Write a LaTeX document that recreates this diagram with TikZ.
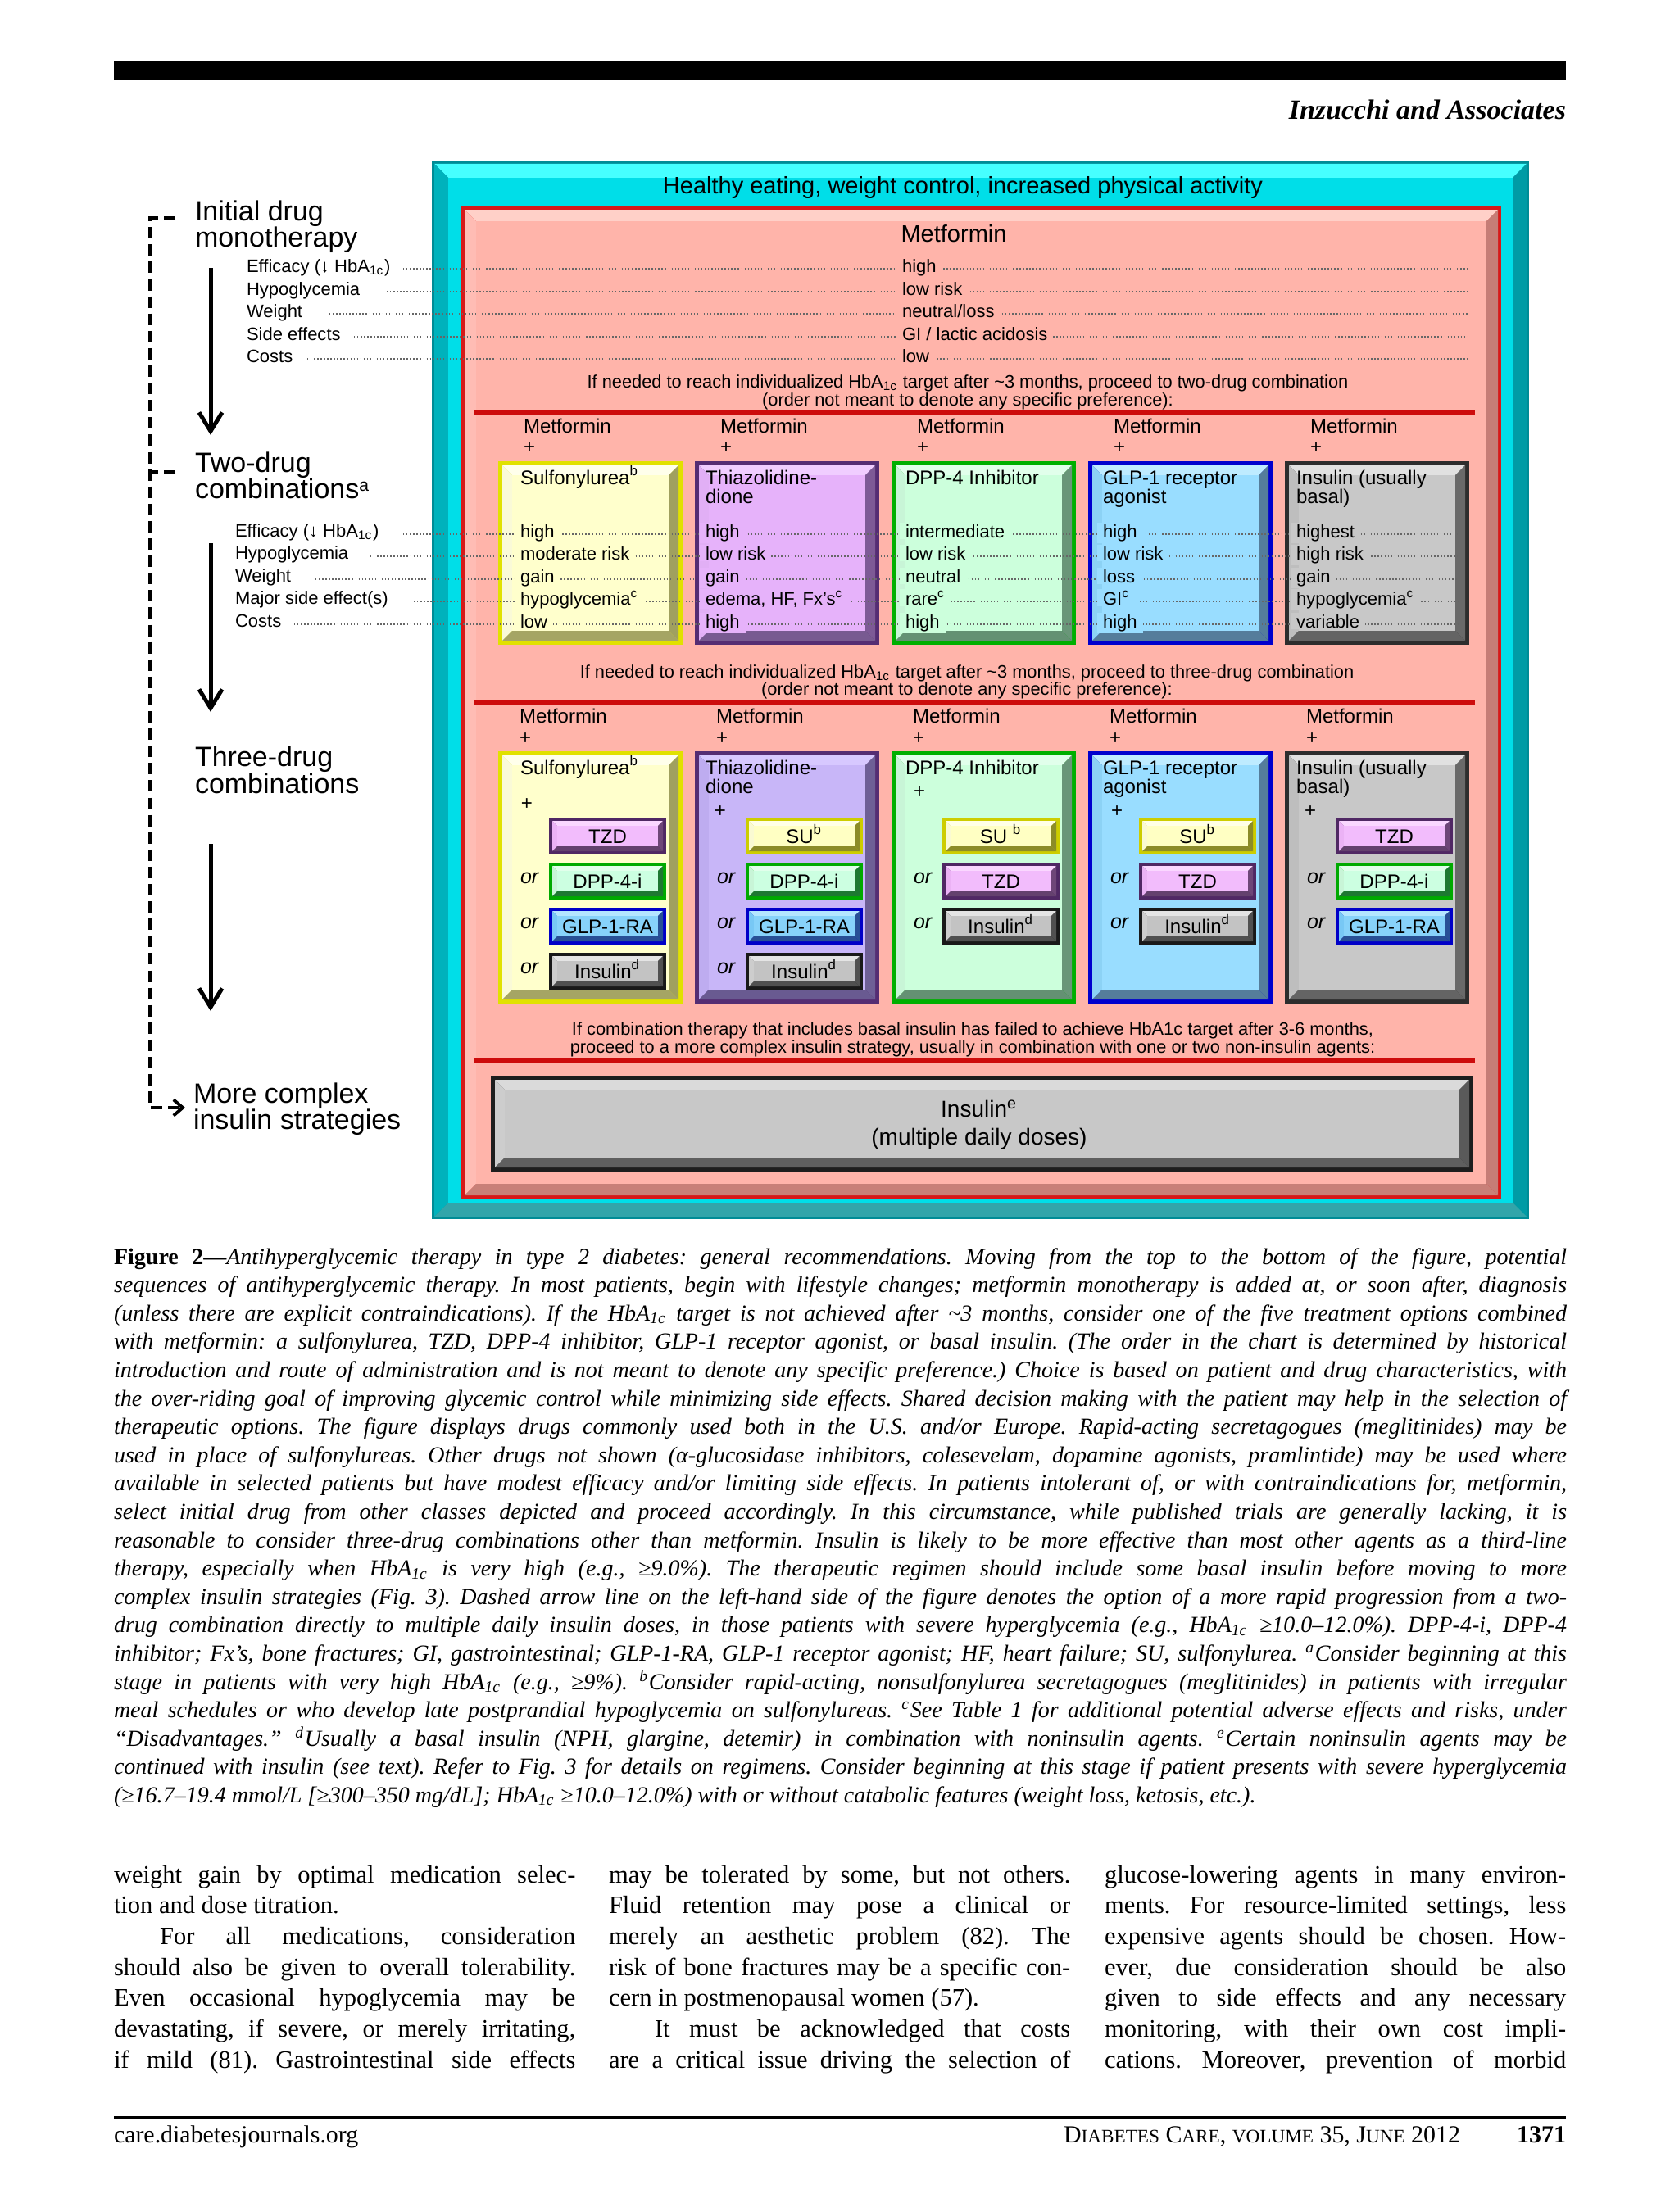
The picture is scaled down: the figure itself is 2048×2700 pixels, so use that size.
\documentclass[tikz,border=0pt]{standalone}
\usepackage{fontspec}
\setmainfont{Liberation Serif}
\newfontfamily\arial{Liberation Sans}
\usetikzlibrary{arrows.meta,calc}
% colours
\definecolor{cyB}{RGB}{0,140,150}\definecolor{cyT}{RGB}{70,255,255}\definecolor{cyL}{RGB}{0,178,188}
\definecolor{cyR}{RGB}{0,155,165}\definecolor{cyD}{RGB}{50,165,170}\definecolor{cyF}{RGB}{0,222,232}
\definecolor{rdB}{RGB}{215,25,25}\definecolor{rdT}{RGB}{255,208,200}\definecolor{rdL}{RGB}{255,188,180}
\definecolor{rdR}{RGB}{198,125,118}\definecolor{rdD}{RGB}{200,128,120}\definecolor{rdF}{RGB}{255,180,170}
\definecolor{yelB}{RGB}{225,225,0}\definecolor{yelT}{RGB}{255,255,235}\definecolor{yelL}{RGB}{250,250,215}
\definecolor{yelR}{RGB}{160,160,95}\definecolor{yelD}{RGB}{165,165,100}\definecolor{yelF}{RGB}{255,255,204}
\definecolor{purB}{RGB}{85,45,115}\definecolor{purT}{RGB}{240,205,255}\definecolor{purL}{RGB}{225,175,245}
\definecolor{purR}{RGB}{125,90,150}\definecolor{purD}{RGB}{120,90,145}\definecolor{purF}{RGB}{230,178,250}
\definecolor{lavB}{RGB}{85,45,115}\definecolor{lavT}{RGB}{215,200,255}\definecolor{lavL}{RGB}{190,172,240}
\definecolor{lavR}{RGB}{110,95,150}\definecolor{lavD}{RGB}{105,90,145}\definecolor{lavF}{RGB}{200,182,248}
\definecolor{grnB}{RGB}{0,175,0}\definecolor{grnT}{RGB}{225,255,235}\definecolor{grnL}{RGB}{200,245,215}
\definecolor{grnR}{RGB}{105,150,120}\definecolor{grnD}{RGB}{100,145,115}\definecolor{grnF}{RGB}{204,255,220}
\definecolor{bluB}{RGB}{0,0,205}\definecolor{bluT}{RGB}{190,235,255}\definecolor{bluL}{RGB}{140,210,245}
\definecolor{bluR}{RGB}{85,125,155}\definecolor{bluD}{RGB}{85,125,155}\definecolor{bluF}{RGB}{153,221,255}
\definecolor{gryB}{RGB}{45,45,45}\definecolor{gryT}{RGB}{225,225,225}\definecolor{gryL}{RGB}{190,190,190}
\definecolor{gryR}{RGB}{105,105,105}\definecolor{gryD}{RGB}{100,100,100}\definecolor{gryF}{RGB}{200,200,200}
\definecolor{stzB}{RGB}{80,40,100}\definecolor{stzT}{RGB}{250,215,255}\definecolor{stzL}{RGB}{235,178,245}
\definecolor{stzR}{RGB}{110,70,120}\definecolor{stzD}{RGB}{100,65,110}\definecolor{stzF}{RGB}{242,188,252}
\definecolor{sdpB}{RGB}{0,170,0}\definecolor{sdpT}{RGB}{225,255,235}\definecolor{sdpL}{RGB}{200,245,215}
\definecolor{sdpR}{RGB}{30,120,50}\definecolor{sdpD}{RGB}{30,120,50}\definecolor{sdpF}{RGB}{204,255,225}
\definecolor{sglB}{RGB}{0,0,200}\definecolor{sglT}{RGB}{180,230,255}\definecolor{sglL}{RGB}{120,200,245}
\definecolor{sglR}{RGB}{40,80,150}\definecolor{sglD}{RGB}{40,80,150}\definecolor{sglF}{RGB}{135,210,250}
\definecolor{sinB}{RGB}{25,25,25}\definecolor{sinT}{RGB}{228,228,228}\definecolor{sinL}{RGB}{205,205,205}
\definecolor{sinR}{RGB}{80,80,80}\definecolor{sinD}{RGB}{80,80,80}\definecolor{sinF}{RGB}{195,195,195}
\definecolor{ssuB}{RGB}{205,205,0}\definecolor{ssuT}{RGB}{255,255,230}\definecolor{ssuL}{RGB}{250,250,210}
\definecolor{ssuR}{RGB}{140,140,40}\definecolor{ssuD}{RGB}{140,140,40}\definecolor{ssuF}{RGB}{255,255,195}
\definecolor{biB}{RGB}{30,30,30}\definecolor{biT}{RGB}{218,218,218}\definecolor{biL}{RGB}{205,205,205}
\definecolor{biR}{RGB}{90,90,90}\definecolor{biD}{RGB}{95,95,95}\definecolor{biF}{RGB}{200,200,200}
\definecolor{sepR}{RGB}{205,12,12}
% font sizes (1px = 0.2845pt)
\newcommand\szA{\fontsize{9.67pt}{8.6pt}\selectfont}
\newcommand\szB{\fontsize{8.25pt}{9pt}\selectfont}
\newcommand\szC{\fontsize{7.97pt}{9.67pt}\selectfont}
\newcommand\szD{\fontsize{7.1pt}{8pt}\selectfont}
\newcommand\szE{\fontsize{6.83pt}{6.54pt}\selectfont}
\newcommand\szF{\fontsize{6.26pt}{7pt}\selectfont}
\newcommand\szG{\fontsize{6.2pt}{6.26pt}\selectfont}
\newcommand\szCap{\fontsize{7.97pt}{9.84pt}\selectfont}
\newcommand\szBody{\fontsize{8.68pt}{10.73pt}\selectfont}
\newcommand\szFoot{\fontsize{8.5pt}{10pt}\selectfont}
\newcommand\szSc{\fontsize{6.6pt}{8pt}\selectfont}
\newcommand\szHdr{\fontsize{9.67pt}{11pt}\selectfont}
\newcommand\lowsup[1]{\raisebox{0.26em}{\fontsize{6pt}{6pt}\selectfont #1}}
% bevelled box: x1 y1 x2 y2 border bevel prefix
\newcommand\bevbox[7]{%
 \pgfmathsetmacro\bvAx{#1+#5}\pgfmathsetmacro\bvAy{#2+#5}%
 \pgfmathsetmacro\bvBx{#3-#5}\pgfmathsetmacro\bvBy{#4-#5}%
 \pgfmathsetmacro\bvCx{\bvAx+#6}\pgfmathsetmacro\bvCy{\bvAy+#6}%
 \pgfmathsetmacro\bvDx{\bvBx-#6}\pgfmathsetmacro\bvDy{\bvBy-#6}%
 \fill[#7B] (#1,#2) rectangle (#3,#4);
 \fill[#7T] (\bvAx,\bvAy) -- (\bvBx,\bvAy) -- (\bvDx,\bvCy) -- (\bvCx,\bvCy) -- cycle;
 \fill[#7L] (\bvAx,\bvAy) -- (\bvCx,\bvCy) -- (\bvCx,\bvDy) -- (\bvAx,\bvBy) -- cycle;
 \fill[#7R] (\bvBx,\bvAy) -- (\bvDx,\bvCy) -- (\bvDx,\bvDy) -- (\bvBx,\bvBy) -- cycle;
 \fill[#7D] (\bvAx,\bvBy) -- (\bvCx,\bvDy) -- (\bvDx,\bvDy) -- (\bvBx,\bvBy) -- cycle;
 \fill[#7F] (\bvCx,\bvCy) rectangle (\bvDx,\bvDy);}
% sub box: name, box left, slot, prefix, text
\newcommand\subb[5]{%
 \pgfmathsetmacro\sbx{#2+62}\pgfmathsetmacro\sby{998+55*#3}%
 \bevbox{\sbx}{\sby}{\sbx+143}{\sby+45}{4}{6}{#4}%
 \node[subt] (#1) at (\sbx+71.5,\sby+31) {#5};}
\newcommand\ornode[3]{\pgfmathsetmacro\ory{998+55*#3+25.5}\node[ort] (#1) at (#2+27,\ory) {or};}
\newcommand\capl[3]{\node[capt] (#1) at (139,#2) {\hbox to 17.72cm{#3}};}
\newcommand\bodl[4]{\node[bodyt] (#1) at (#2,#3) {\hbox to 5.63cm{#4}};}
\begin{document}
\frenchspacing
\begin{tikzpicture}[x=0.01cm,y=-0.01cm,
 every node/.style={inner sep=0pt,outer sep=0pt},
 lab/.style={font=\arial\szA,anchor=base west},
 sml/.style={font=\arial\szF,anchor=base west},
 rowt/.style={font=\arial\szF,anchor=base west,inner xsep=2pt,inner ysep=0.6pt},
 ttl/.style={font=\arial\szE,anchor=base west},
 mfl/.style={font=\arial\szE,anchor=base west},
 subt/.style={font=\arial\szE,anchor=base},
 ort/.style={font=\arial\itshape\szD,anchor=base west},
 note/.style={font=\arial\szG,anchor=base},
 capt/.style={font=\szCap\itshape,anchor=base west},
 bodyt/.style={font=\szBody,anchor=base west},
 foot/.style={font=\szFoot},
 leader/.style={line width=0.35pt,dash pattern=on 0.4pt off 0.75pt,black!60},
 sepline/.style={line width=1.45pt,sepR},
 bigarrow/.style={line width=1.42pt,-{Straight Barb[length=6.5pt,width=8pt]}},
 dashline/.style={line width=1.1pt,dash pattern=on 4pt off 2pt}]
\useasboundingbox (0,0) rectangle (2048,2700);
\fill[white] (0,0) rectangle (2048,2700);
% header
\fill[black] (139,74) rectangle (1911,98);
\node[font=\szHdr\itshape\bfseries,anchor=base east] (hdr) at (1911,146) {Inzucchi and Associates};
% frames
\bevbox{527}{197}{1866}{1488}{3}{17}{cy}
\bevbox{563}{252}{1832}{1463}{4}{14}{rd}
\node[font=\arial\szB,anchor=base] (healthy) at (1175,237) {Healthy eating, weight control, increased physical activity};
\node[font=\arial\szB,anchor=base] (metf) at (1164,295) {Metformin};
% two-drug boxes
\foreach \k/\p in {0/yel,1/pur,2/grn,3/blu,4/gry}{\pgfmathsetmacro\bxL{608+240*\k}\bevbox{\bxL}{563}{\bxL+225}{787}{5}{12}{\p}}
% three-drug boxes
\foreach \k/\p in {0/yel,1/lav,2/grn,3/blu,4/gry}{\pgfmathsetmacro\bxL{608+240*\k}\bevbox{\bxL}{917}{\bxL+225}{1225}{5}{12}{\p}}
% bottom insulin box
\bevbox{599}{1313}{1798}{1430}{5}{12}{bi}
\node[font=\arial\szC,anchor=base] (ins1) at (1195,1363) {Insulin\textsuperscript{e}};
\node[font=\arial\szC,anchor=base] (ins2) at (1195,1397) {(multiple daily doses)};
% separator lines
\coordinate (s1a) at (579,503);\coordinate (s1b) at (1800,503);
\coordinate (s2a) at (579,857);\coordinate (s2b) at (1800,857);
\coordinate (s3a) at (579,1294);\coordinate (s3b) at (1800,1294);
\draw[sepline] (s1a) -- (s1b);\draw[sepline] (s2a) -- (s2b);\draw[sepline] (s3a) -- (s3b);
% transition notes
\node[note] (t1a) at (1181,473) {If needed to reach individualized HbA\textsubscript{1c} target after \textasciitilde3 months, proceed to two-drug combination};
\node[note] (t1b) at (1181,495) {(order not meant to denote any specific preference):};
\node[note] (t2a) at (1180,827) {If needed to reach individualized HbA\textsubscript{1c} target after \textasciitilde3 months, proceed to three-drug combination};
\node[note] (t2b) at (1180,848) {(order not meant to denote any specific preference):};
\node[note] (t3a) at (1187,1263) {If combination therapy that includes basal insulin has failed to achieve HbA1c target after 3-6 months,};
\node[note] (t3b) at (1187,1285) {proceed to a more complex insulin strategy, usually in combination with one or two non-insulin agents:};
% Metformin + labels
\foreach \k in {0,...,4}{\pgfmathsetmacro\mx{639+240*\k}\pgfmathsetmacro\my{634+240*\k}
 \node[mfl] (mA\k) at (\mx,528) {Metformin};\node[mfl] (pA\k) at (\mx,553) {+};
 \node[mfl] (mB\k) at (\my,882) {Metformin};\node[mfl] (pB\k) at (\my,908) {+};}
% left side labels
\node[lab] (lb1) at (238,269) {Initial drug};
\node[lab] (lb2) at (238,301) {monotherapy};
\node[lab] (lb3) at (238,576) {Two-drug};
\node[lab] (lb4) at (238,608) {combinations\lowsup{a}};
\node[lab] (lb5) at (238,935) {Three-drug};
\node[lab] (lb6) at (238,968) {combinations};
\node[lab] (lb7) at (236,1346) {More complex};
\node[lab] (lb8) at (236,1378) {insulin strategies};
\node[sml] (ma1) at (301,332) {Efficacy (↓ HbA\textsubscript{1c})};
\node[sml] (ma2) at (301,360) {Hypoglycemia};
\node[sml] (ma3) at (301,387) {Weight};
\node[sml] (ma4) at (301,415) {Side effects};
\node[sml] (ma5) at (301,442) {Costs};
\node[sml] (mb1) at (287,655) {Efficacy (↓ HbA\textsubscript{1c})};
\node[sml] (mb2) at (287,682) {Hypoglycemia};
\node[sml] (mb3) at (287,710) {Weight};
\node[sml] (mb4) at (287,737) {Major side effect(s)};
\node[sml] (mb5) at (287,765) {Costs};
% arrows
\coordinate (a1s) at (257,327);\coordinate (a1e) at (257,531);
\coordinate (a2s) at (257,663);\coordinate (a2e) at (257,869);
\coordinate (a3s) at (257,1030);\coordinate (a3e) at (257,1234);
\draw[bigarrow] (a1s) -- (a1e);\draw[bigarrow] (a2s) -- (a2e);\draw[bigarrow] (a3s) -- (a3e);
\coordinate (d1) at (214,266);\coordinate (dk1) at (183,266);\coordinate (dk2) at (183,1352);\coordinate (d2) at (226,1352);
\coordinate (d3) at (214,576);\coordinate (dk3) at (183,576);
\draw[dashline,-{Straight Barb[length=3.2pt,width=5.5pt]}] (d1) -- (dk1) -- (dk2) -- (d2);
\draw[dashline] (d3) -- (dk3);
% dotted leaders
\foreach \i/\sx/\yy in {1/492/328,2/472/356,3/402/383,4/432/411,5/375/438}{%
 \coordinate (ts\i) at (\sx,\yy);\coordinate (te\i) at (1793,\yy);\draw[leader] (ts\i) -- (te\i);}
\foreach \i/\sx/\yy in {1/492/652,2/452/679,3/385/707,4/505/734,5/359/762}{%
 \coordinate (us\i) at (\sx,\yy);\coordinate (ue\i) at (1779,\yy);\draw[leader] (us\i) -- (ue\i);}
% metformin values
\node[rowt,fill=rdF] (v1) at (1094,332) {high};
\node[rowt,fill=rdF] (v2) at (1094,360) {low risk};
\node[rowt,fill=rdF] (v3) at (1094,387) {neutral/loss};
\node[rowt,fill=rdF] (v4) at (1094,415) {GI / lactic acidosis};
\node[rowt,fill=rdF] (v5) at (1094,442) {low};
% two-drug box titles
\node[ttl] (ta0) at (635,591) {Sulfonylurea\textsuperscript{b}};
\node[ttl] (ta1) at (861,591) {Thiazolidine-};\node[ttl] (ta1b) at (861,614) {dione};
\node[ttl] (ta2) at (1105,591) {DPP-4 Inhibitor};
\node[ttl] (ta3) at (1346,591) {GLP-1 receptor};\node[ttl] (ta3b) at (1346,614) {agonist};
\node[ttl] (ta4) at (1582,591) {Insulin (usually};\node[ttl] (ta4b) at (1582,614) {basal)};
% two-drug rows
\node[rowt,fill=yelF] (r01) at (628,656) {high};
\node[rowt,fill=yelF] (r02) at (628,683) {moderate risk};
\node[rowt,fill=yelF] (r03) at (628,711) {gain};
\node[rowt,fill=yelF] (r04) at (628,738) {hypoglycemia\textsuperscript{c}};
\node[rowt,fill=yelF] (r05) at (628,766) {low};
\node[rowt,fill=purF] (r11) at (854,656) {high};
\node[rowt,fill=purF] (r12) at (854,683) {low risk};
\node[rowt,fill=purF] (r13) at (854,711) {gain};
\node[rowt,fill=purF] (r14) at (854,738) {edema, HF, Fx’s\textsuperscript{c}};
\node[rowt,fill=purF] (r15) at (854,766) {high};
\node[rowt,fill=grnF] (r21) at (1098,656) {intermediate};
\node[rowt,fill=grnF] (r22) at (1098,683) {low risk};
\node[rowt,fill=grnF] (r23) at (1098,711) {neutral};
\node[rowt,fill=grnF] (r24) at (1098,738) {rare\textsuperscript{c}};
\node[rowt,fill=grnF] (r25) at (1098,766) {high};
\node[rowt,fill=bluF] (r31) at (1339,656) {high};
\node[rowt,fill=bluF] (r32) at (1339,683) {low risk};
\node[rowt,fill=bluF] (r33) at (1339,711) {loss};
\node[rowt,fill=bluF] (r34) at (1339,738) {GI\textsuperscript{c}};
\node[rowt,fill=bluF] (r35) at (1339,766) {high};
\node[rowt,fill=gryF] (r41) at (1575,656) {highest};
\node[rowt,fill=gryF] (r42) at (1575,683) {high risk};
\node[rowt,fill=gryF] (r43) at (1575,711) {gain};
\node[rowt,fill=gryF] (r44) at (1575,738) {hypoglycemia\textsuperscript{c}};
\node[rowt,fill=gryF] (r45) at (1575,766) {variable};
% three-drug titles and plus
\node[ttl] (tb0) at (635,945) {Sulfonylurea\textsuperscript{b}};
\node[ttl] (tb1) at (861,945) {Thiazolidine-};\node[ttl] (tb1b) at (861,968) {dione};
\node[ttl] (tb2) at (1105,945) {DPP-4 Inhibitor};
\node[ttl] (tb3) at (1346,945) {GLP-1 receptor};\node[ttl] (tb3b) at (1346,968) {agonist};
\node[ttl] (tb4) at (1582,945) {Insulin (usually};\node[ttl] (tb4b) at (1582,968) {basal)};
\node[subt] (q0) at (643,988) {+};
\node[subt] (q1) at (879,997) {+};
\node[subt] (q2) at (1122,973) {+};
\node[subt] (q3) at (1363,997) {+};
\node[subt] (q4) at (1599,997) {+};
% three-drug sub boxes
\subb{x00}{608}{0}{stz}{TZD}
\subb{x01}{608}{1}{sdp}{DPP-4-i}
\subb{x02}{608}{2}{sgl}{GLP-1-RA}
\subb{x03}{608}{3}{sin}{Insulin\textsuperscript{d}}
\ornode{o01}{608}{1}\ornode{o02}{608}{2}\ornode{o03}{608}{3}
\subb{x10}{848}{0}{ssu}{SU\textsuperscript{b}}
\subb{x11}{848}{1}{sdp}{DPP-4-i}
\subb{x12}{848}{2}{sgl}{GLP-1-RA}
\subb{x13}{848}{3}{sin}{Insulin\textsuperscript{d}}
\ornode{o11}{848}{1}\ornode{o12}{848}{2}\ornode{o13}{848}{3}
\subb{x20}{1088}{0}{ssu}{SU \textsuperscript{b}}
\subb{x21}{1088}{1}{stz}{TZD}
\subb{x22}{1088}{2}{sin}{Insulin\textsuperscript{d}}
\ornode{o21}{1088}{1}\ornode{o22}{1088}{2}
\subb{x30}{1328}{0}{ssu}{SU\textsuperscript{b}}
\subb{x31}{1328}{1}{stz}{TZD}
\subb{x32}{1328}{2}{sin}{Insulin\textsuperscript{d}}
\ornode{o31}{1328}{1}\ornode{o32}{1328}{2}
\subb{x40}{1568}{0}{stz}{TZD}
\subb{x41}{1568}{1}{sdp}{DPP-4-i}
\subb{x42}{1568}{2}{sgl}{GLP-1-RA}
\ornode{o41}{1568}{1}\ornode{o42}{1568}{2}
% caption
\capl{c01}{1543}{{\upshape\bfseries Figure 2—}Antihyperglycemic therapy in type 2 diabetes: general recommendations. Moving from the top to the bottom of the figure, potential}
\capl{c02}{1577.6}{sequences of antihyperglycemic therapy. In most patients, begin with lifestyle changes; metformin monotherapy is added at, or soon after, diagnosis}
\capl{c03}{1612.2}{(unless there are explicit contraindications). If the HbA\textsubscript{1c} target is not achieved after \textasciitilde3 months, consider one of the five treatment options combined}
\capl{c04}{1646.8}{with metformin: a sulfonylurea, TZD, DPP-4 inhibitor, GLP-1 receptor agonist, or basal insulin. (The order in the chart is determined by historical}
\capl{c05}{1681.4}{introduction and route of administration and is not meant to denote any specific preference.) Choice is based on patient and drug characteristics, with}
\capl{c06}{1716}{the over-riding goal of improving glycemic control while minimizing side effects. Shared decision making with the patient may help in the selection of}
\capl{c07}{1750.6}{therapeutic options. The figure displays drugs commonly used both in the U.S. and/or Europe. Rapid-acting secretagogues (meglitinides) may be}
\capl{c08}{1785.2}{used in place of sulfonylureas. Other drugs not shown (α-glucosidase inhibitors, colesevelam, dopamine agonists, pramlintide) may be used where}
\capl{c09}{1819.8}{available in selected patients but have modest efficacy and/or limiting side effects. In patients intolerant of, or with contraindications for, metformin,}
\capl{c10}{1854.4}{select initial drug from other classes depicted and proceed accordingly. In this circumstance, while published trials are generally lacking, it is}
\capl{c11}{1889}{reasonable to consider three-drug combinations other than metformin. Insulin is likely to be more effective than most other agents as a third-line}
\capl{c12}{1923.6}{therapy, especially when HbA\textsubscript{1c} is very high (e.g., ≥9.0\%). The therapeutic regimen should include some basal insulin before moving to more}
\capl{c13}{1958.2}{complex insulin strategies (Fig. 3). Dashed arrow line on the left-hand side of the figure denotes the option of a more rapid progression from a two-}
\capl{c14}{1992.8}{drug combination directly to multiple daily insulin doses, in those patients with severe hyperglycemia (e.g., HbA\textsubscript{1c} ≥10.0–12.0\%). DPP-4-i, DPP-4}
\capl{c15}{2027.4}{inhibitor; Fx’s, bone fractures; GI, gastrointestinal; GLP-1-RA, GLP-1 receptor agonist; HF, heart failure; SU, sulfonylurea. \textsuperscript{a}Consider beginning at this}
\capl{c16}{2062}{stage in patients with very high HbA\textsubscript{1c} (e.g., ≥9\%). \textsuperscript{b}Consider rapid-acting, nonsulfonylurea secretagogues (meglitinides) in patients with irregular}
\capl{c17}{2096.6}{meal schedules or who develop late postprandial hypoglycemia on sulfonylureas. \textsuperscript{c}See Table 1 for additional potential adverse effects and risks, under}
\capl{c18}{2131.2}{“Disadvantages.” \textsuperscript{d}Usually a basal insulin (NPH, glargine, detemir) in combination with noninsulin agents. \textsuperscript{e}Certain noninsulin agents may be}
\capl{c19}{2165.8}{continued with insulin (see text). Refer to Fig. 3 for details on regimens. Consider beginning at this stage if patient presents with severe hyperglycemia}
\node[capt] (c20) at (139,2200.4) {(≥16.7–19.4 mmol/L [≥300–350 mg/dL]; HbA\textsubscript{1c} ≥10.0–12.0\%) with or without catabolic features (weight loss, ketosis, etc.).};
% body text
\bodl{b11}{139}{2298}{weight gain by optimal medication selec-}
\node[bodyt] (b12) at (139,2335.7) {tion and dose titration.};
\bodl{b13}{139}{2373.4}{\hskip 0.56cm For all medications, consideration}
\bodl{b14}{139}{2411.1}{should also be given to overall tolerability.}
\bodl{b15}{139}{2448.8}{Even occasional hypoglycemia may be}
\bodl{b16}{139}{2486.5}{devastating, if severe, or merely irritating,}
\bodl{b17}{139}{2524.2}{if mild (81). Gastrointestinal side effects}
\bodl{b21}{743}{2298}{may be tolerated by some, but not others.}
\bodl{b22}{743}{2335.7}{Fluid retention may pose a clinical or}
\bodl{b23}{743}{2373.4}{merely an aesthetic problem (82). The}
\bodl{b24}{743}{2411.1}{risk of bone fractures may be a specific con-}
\node[bodyt] (b25) at (743,2448.8) {cern in postmenopausal women (57).};
\bodl{b26}{743}{2486.5}{\hskip 0.56cm It must be acknowledged that costs}
\bodl{b27}{743}{2524.2}{are a critical issue driving the selection of}
\bodl{b31}{1348}{2298}{glucose-lowering agents in many environ-}
\bodl{b32}{1348}{2335.7}{ments. For resource-limited settings, less}
\bodl{b33}{1348}{2373.4}{expensive agents should be chosen. How-}
\bodl{b34}{1348}{2411.1}{ever, due consideration should be also}
\bodl{b35}{1348}{2448.8}{given to side effects and any necessary}
\bodl{b36}{1348}{2486.5}{monitoring, with their own cost impli-}
\bodl{b37}{1348}{2524.2}{cations. Moreover, prevention of morbid}
% footer
\coordinate (fr1) at (139,2585);\coordinate (fr2) at (1911,2585);
\draw[line width=1pt] (fr1) -- (fr2);
\node[foot,anchor=base west] (f1) at (139,2615) {care.diabetesjournals.org};
\node[foot,anchor=base east] (f2) at (1782,2615) {D{\szSc IABETES} C{\szSc ARE}, {\szSc VOLUME} 35, J{\szSc UNE} 2012};
\node[foot,anchor=base east,font=\szFoot\bfseries] (f3) at (1911,2615) {1371};
\end{tikzpicture}
\end{document}
